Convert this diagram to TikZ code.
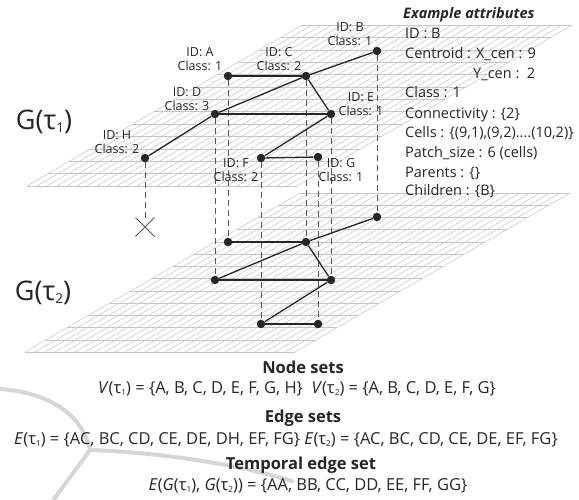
\documentclass[tikz,border=0pt]{standalone}
\usepackage{fontspec}
\usepackage{graphicx}
\setmainfont{Open Sans}
\usetikzlibrary{shapes.misc}
\definecolor{ink}{HTML}{262626}
\definecolor{gridc}{HTML}{C6C6C6}
\definecolor{dashc}{HTML}{555555}
\definecolor{wmc}{HTML}{D6D6D6}
\newcommand\tsub[1]{\raisebox{-0.12em}{\scalebox{0.5}{#1}}}
\newcommand\gridplane[3]{%
  \foreach \i in {0,...,13}{
    \draw[gridline] ({#1-275*\i/13},{#2+(#3-#2)*\i/13}) -- ++(270,0);
  }
  \foreach \j in {0,...,27}{
    \draw[gridline] ({#1+270*\j/27},#2) -- ({#1-275+270*\j/27},#3);
  }
}
\begin{document}
\begin{tikzpicture}[x=1pt,y=-1pt,
  gridline/.style={draw=gridc,line width=0.5pt},
  dot/.style={circle,fill=ink,inner sep=0pt,minimum size=8.5pt},
  edge/.style={draw=ink,line width=1.3pt},
  drop/.style={draw=dashc,line width=0.9pt,dash pattern=on 6pt off 4pt},
  lbl/.style={align=center,font=\fontsize{12.5}{14}\selectfont,text=ink,inner sep=0pt},
  attr/.style={anchor=base west,font=\fontsize{14.5}{17}\selectfont,text=ink,inner sep=0pt},
  big/.style={font=\fontsize{27}{30}\selectfont,text=ink,inner sep=0pt},
  head/.style={font=\fontsize{16.5}{18}\selectfont\bfseries,text=ink,inner sep=0pt},
  sets/.style={font=\fontsize{16.5}{18}\selectfont,text=ink,inner sep=0pt},
  wm/.style={draw=wmc,line width=4pt,line cap=round},
  crossmark/.style={cross out,draw=dashc,line width=1pt,minimum size=18pt,inner sep=0pt}]
\useasboundingbox (0,0) rectangle (579,499);
\fill[white] (0,0) rectangle (579,499);
% faint watermark
\draw[wm] (0,389) .. controls (45,392) and (82,412) .. (90,450);
\draw[wm] (90,450) .. controls (150,452) and (230,462) .. (292,481);
\draw[wm] (90,450) -- (54,499);
% grid planes
\gridplane{302}{25}{186}
\gridplane{300}{193}{352}
% labels of planes
\node[big] (g1) at (44,122) {G(τ\tsub{1})};
\node[big] (g2) at (43,293) {G(τ\tsub{2})};
% nodes, upper graph
\node[dot] (A1) at (228,76) {};
\node[dot] (B1) at (377,51) {};
\node[dot] (C1) at (306,76) {};
\node[dot] (D1) at (215,114) {};
\node[dot] (E1) at (331,114) {};
\node[dot] (F1) at (261,158) {};
\node[dot] (G1) at (318,157) {};
\node[dot] (H1) at (145,158) {};
% nodes, lower graph
\node[dot] (A2) at (228,242) {};
\node[dot] (B2) at (377,217) {};
\node[dot] (C2) at (306,242) {};
\node[dot] (D2) at (215,280) {};
\node[dot] (E2) at (331,280) {};
\node[dot] (F2) at (261,324) {};
\node[dot] (G2) at (318,324) {};
\node[crossmark] (X) at (145,227) {};
% temporal (dashed) links
\foreach \n in {A,B,C,D,E,F,G}{\draw[drop] (\n1) -- (\n2);}
\draw[drop] (H1) -- (X);
% edges
\draw[edge] (A1) -- (C1);
\draw[edge] (B1) -- (C1);
\draw[edge] (C1) -- (D1);
\draw[edge] (C1) -- (E1);
\draw[edge] (D1) -- (E1);
\draw[edge] (D1) -- (H1);
\draw[edge] (E1) -- (F1);
\draw[edge] (F1) -- (G1);
\draw[edge] (A2) -- (C2);
\draw[edge] (B2) -- (C2);
\draw[edge] (C2) -- (D2);
\draw[edge] (C2) -- (E2);
\draw[edge] (D2) -- (E2);
\draw[edge] (E2) -- (F2);
\draw[edge] (F2) -- (G2);
% node labels
\node[lbl] (lA) at (200,59) {ID: A\\Class: 1};
\node[lbl] (lC) at (279,59) {ID: C\\Class: 2};
\node[lbl] (lB) at (350,34) {ID: B\\Class: 1};
\node[lbl] (lD) at (187,99) {ID: D\\Class: 3};
\node[lbl] (lE) at (361,104) {ID: E\\Class: 1};
\node[lbl] (lH) at (117,142) {ID: H\\Class: 2};
\node[lbl] (lF) at (236,170) {ID: F\\Class: 2};
\node[lbl] (lG) at (341,170) {ID: G\\Class: 1};
% attributes
\node[attr] (at0) at (403,18) {\bfseries\itshape Example attributes};
\node[attr] (at1) at (405,38) {ID : B};
\node[attr] (at2) at (405,58) {Centroid : X\_cen : 9};
\node[attr] (at3) at (473,78) {Y\_cen :\ \ 2};
\node[attr] (at4) at (405,97) {Class : 1};
\node[attr] (at5) at (405,118) {Connectivity : \{2\}};
\node[attr] (at6) at (405,137) {Cells : \{(9,1),(9,2)....(10,2)\}};
\node[attr] (at7) at (405,157) {Patch\_size : 6 (cells)};
\node[attr] (at8) at (405,177) {Parents : \{\}};
\node[attr] (at9) at (405,195) {Children : \{B\}};
% sets
\node[head] (h1) at (303,367) {Node sets};
\node[sets] (s1) at (297,389) {\textit{V}(τ\tsub{1}) = \{A, B, C, D, E, F, G, H\}\ \ \textit{V}(τ\tsub{2}) = \{A, B, C, D, E, F, G\}};
\node[head] (h2) at (303,418) {Edge sets};
\node[sets] (s2) at (286,440) {\textit{E}(τ\tsub{1}) = \{AC, BC, CD, CE, DE, DH, EF, FG\}\ \textit{E}(τ\tsub{2}) = \{AC, BC, CD, CE, DE, EF, FG\}};
\node[head] (h3) at (301,465) {Temporal edge set};
\node[sets] (s3) at (308,486) {\textit{E}(\textit{G}(τ\tsub{1}), \textit{G}(τ\tsub{2})) = \{AA, BB, CC, DD, EE, FF, GG\}};
\end{tikzpicture}
\end{document}
